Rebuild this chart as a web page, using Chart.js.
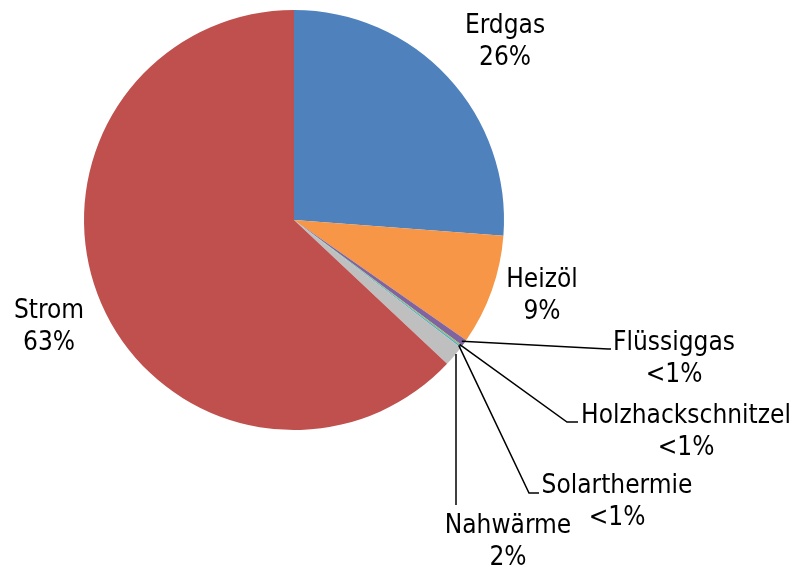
<!DOCTYPE html>
<html>
<head>
<meta charset="utf-8">
<script src="https://cdn.jsdelivr.net/npm/chart.js@4"></script>
<style>
  html, body { margin: 0; padding: 0; background: #fff; }
  #wrap { width: 793px; height: 567px; }
</style>
</head>
<body>
<div id="wrap"><canvas id="pieChart"></canvas></div>
<script>
// Data
const categories = ['Erdgas', 'Heizöl', 'Flüssiggas', 'Holzhackschnitzel', 'Solarthermie', 'Nahwärme', 'Strom'];
const shares = [26.2, 8.5, 0.5, 0.1, 0.1, 1.6, 63.0];
const shareLabels = ['26%', '9%', '<1%', '<1%', '<1%', '2%', '63%'];
const sliceColors = ['#4F81BD', '#F79646', '#8064A2', '#9BBB59', '#4BACC6', '#BFBFBF', '#C0504D'];

// label placement: text centre x, first-line baseline + optional leader elbow / horizontal end
const labelPlace = [
    { x: 505, y: 33 },
    { x: 542, y: 287 },
    { x: 674, y: 350, elbow: [608, 349], end: [611, 349] },
    { x: 686, y: 423, elbow: [567, 422], end: [578, 422] },
    { x: 617, y: 493, elbow: [529, 493], end: [539, 493] },
    { x: 508, y: 533, elbow: [456, 505], vertical: true },
    { x: 49, y: 318 }
];

const pieLabels = {
    id: 'pieLabels',
    afterDraw(chart) {
        const ctx = chart.ctx;
        const arcs = chart.getDatasetMeta(0).data;
        ctx.save();
        ctx.font = '26px "DejaVu Sans Condensed", "DejaVu Sans", sans-serif';
        ctx.fillStyle = '#000';
        ctx.textAlign = 'center';
        ctx.textBaseline = 'alphabetic';
        ctx.strokeStyle = '#000';
        ctx.lineWidth = 1.5;
        arcs.forEach((arc, i) => {
            const p = labelPlace[i];
            if (p.elbow) {
                const mid = (arc.startAngle + arc.endAngle) / 2;
                const r = arc.outerRadius - 3;
                let sx = arc.x + Math.cos(mid) * r;
                const sy = arc.y + Math.sin(mid) * r;
                if (p.vertical) sx = p.elbow[0];
                ctx.beginPath();
                ctx.moveTo(sx, sy);
                ctx.lineTo(p.elbow[0], p.elbow[1]);
                if (p.end) ctx.lineTo(p.end[0], p.end[1]);
                ctx.stroke();
            }
            ctx.fillText(categories[i], p.x, p.y);
            ctx.fillText(shareLabels[i], p.x, p.y + 32);
        });
        ctx.restore();
    }
};

new Chart(document.getElementById('pieChart'), {
    type: 'pie',
    data: {
        labels: categories,
        datasets: [{
            data: shares,
            backgroundColor: sliceColors,
            borderWidth: 0
        }]
    },
    options: {
        responsive: true,
        maintainAspectRatio: false,
        animation: false,
        layout: { padding: { left: 84, right: 289, top: 10, bottom: 137 } },
        plugins: {
            legend: { display: false },
            tooltip: { enabled: false }
        }
    },
    plugins: [pieLabels]
});
</script>
</body>
</html>
